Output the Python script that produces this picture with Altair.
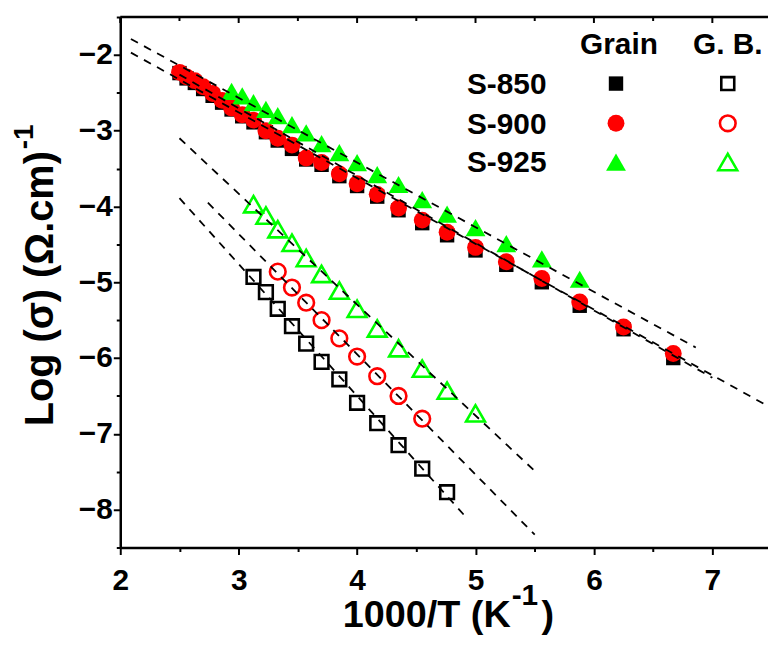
import altair as alt
import pandas as pd

# ---------------- data ----------------
grain_x = [2.50, 2.56, 2.63, 2.70, 2.78, 2.86, 2.94, 3.03, 3.125, 3.23, 3.33, 3.45, 3.57,
           3.70, 3.85, 4.00, 4.17, 4.35, 4.55, 4.76, 5.00, 5.26, 5.56, 5.88, 6.25, 6.67]
grain_850_y = [-2.24, -2.31, -2.37, -2.45, -2.54, -2.63, -2.72, -2.81, -2.89, -3.02, -3.13, -3.24, -3.38,
               -3.45, -3.60, -3.73, -3.87, -4.05, -4.22, -4.38, -4.58, -4.77, -5.00, -5.31, -5.62, -6.00]
grain_900_y = [-2.23, -2.29, -2.34, -2.42, -2.51, -2.60, -2.70, -2.79, -2.86, -3.00, -3.10, -3.19, -3.36,
               -3.42, -3.57, -3.70, -3.84, -4.02, -4.18, -4.34, -4.54, -4.73, -4.95, -5.26, -5.59, -5.94]
grain_925_x = [2.94, 3.03, 3.125, 3.23, 3.33, 3.45, 3.57, 3.70, 3.85, 4.00, 4.17, 4.35, 4.55,
               4.76, 5.00, 5.26, 5.56, 5.88]
grain_925_y = [-2.48, -2.54, -2.63, -2.72, -2.80, -2.92, -3.03, -3.17, -3.29, -3.42, -3.58, -3.71, -3.91,
               -4.10, -4.28, -4.49, -4.69, -4.96]

gb_850_x = [3.125, 3.23, 3.33, 3.45, 3.57, 3.70, 3.85, 4.00, 4.17, 4.35, 4.55, 4.76]
gb_850_y = [-4.93, -5.13, -5.35, -5.58, -5.81, -6.05, -6.28, -6.59, -6.86, -7.15, -7.46, -7.77]
gb_900_x = [3.33, 3.45, 3.57, 3.70, 3.85, 4.00, 4.17, 4.35, 4.55]
gb_900_y = [-4.86, -5.07, -5.27, -5.50, -5.74, -5.98, -6.24, -6.50, -6.80]
gb_925_x = [3.125, 3.23, 3.33, 3.45, 3.57, 3.70, 3.85, 4.00, 4.17, 4.35, 4.55, 4.76, 5.00]
gb_925_y = [-3.97, -4.12, -4.30, -4.48, -4.68, -4.89, -5.11, -5.35, -5.61, -5.87, -6.14, -6.43, -6.73]

# dashed fit lines: id, x, y (two end points each)
fit_id = ["g925", "g925", "g900", "g900", "g850", "g850",
          "b925", "b925", "b900", "b900", "b850", "b850"]
fit_x = [2.09, 6.86, 2.09, 7.50, 2.50, 7.00,
         2.50, 5.50, 2.74, 5.50, 2.50, 4.92]
fit_y = [-1.79, -5.86, -1.97, -6.66, -2.26, -6.26,
         -3.10, -7.49, -3.95, -8.33, -3.89, -8.10]

x_tick_values = [2, 2.5, 3, 3.5, 4, 4.5, 5, 5.5, 6, 6.5, 7]
y_tick_values = [-8.5, -8, -7.5, -7, -6.5, -6, -5.5, -5, -4.5, -4, -3.5, -3, -2.5, -2, -1.5]
top_major = [2, 3, 4, 5, 6, 7]
top_minor = [2.5, 3.5, 4.5, 5.5, 6.5]

legend_rows = ["S-850", "S-900", "S-925"]
legend_cols = ["Grain", "G. B."]

# ---------------- style ----------------
W, H = 652, 534
FONT = "Liberation Sans, Arial, Helvetica, sans-serif"
BLACK, RED, GREEN = "#000000", "#FF0000", "#00FF00"

xs = alt.Scale(domain=[2, 7.47], nice=False, zero=False)
ys = alt.Scale(domain=[-8.5, -1.5], nice=False, zero=False)

xaxis = alt.Axis(values=x_tick_values, title=None, grid=False,
                 labelExpr="datum.value % 1 == 0 ? format(datum.value, 'd') : ''",
                 tickSize={"condition": {"test": "datum.value % 1 == 0", "value": 7}, "value": 4},
                 labelPadding=11, labelFlush=False, labelOverlap=False)
yaxis = alt.Axis(values=y_tick_values, title=None, grid=False,
                 labelExpr="datum.value % 1 == 0 ? format(datum.value, 'd') : ''",
                 tickSize={"condition": {"test": "datum.value % 1 == 0", "value": 7}, "value": 4},
                 labelPadding=1, labelFlush=False, labelOverlap=False)


def pts(xv, yv, shape, color, filled, size):
    df = pd.DataFrame({"x": xv, "y": yv})
    kw = dict(shape=shape, size=size, opacity=1)
    if filled:
        kw.update(filled=True, fill=color, strokeWidth=0)
    else:
        kw.update(filled=False, stroke=color, strokeWidth=2.6, fill="white", fillOpacity=0)
    return alt.Chart(df).mark_point(**kw).encode(
        x=alt.X("x:Q", scale=xs, axis=xaxis),
        y=alt.Y("y:Q", scale=ys, axis=yaxis))


SQ, CI, TR = 210, 289, 400

layers = []
# open (grain boundary) markers
layers.append(pts(gb_850_x, gb_850_y, "square", BLACK, False, SQ - 20))
layers.append(pts(gb_900_x, gb_900_y, "circle", RED, False, CI - 40))
layers.append(pts(gb_925_x, gb_925_y, "triangle-up", GREEN, False, TR - 40))
# filled (grain) markers
layers.append(pts(grain_x, grain_850_y, "square", BLACK, True, SQ))
layers.append(pts(grain_x, grain_900_y, "circle", RED, True, CI))
layers.append(pts(grain_925_x, grain_925_y, "triangle-up", GREEN, True, TR))

# fit lines
fit_df = pd.DataFrame({"id": fit_id, "x": fit_x, "y": fit_y})
layers.append(alt.Chart(fit_df).mark_line(color=BLACK, strokeWidth=1.8, strokeDash=[8, 7], clip=True).encode(
    x=alt.X("x:Q", scale=xs, axis=xaxis), y=alt.Y("y:Q", scale=ys, axis=yaxis), detail="id:N"))

# top frame and its inward ticks
one = pd.DataFrame({"a": [0]})
layers.append(alt.Chart(one).mark_rule(color=BLACK, strokeWidth=2.5).encode(
    x=alt.value(0), x2=alt.value(W), y=alt.value(0)))
layers.append(alt.Chart(pd.DataFrame({"t": top_major})).mark_rule(color=BLACK, strokeWidth=2).encode(
    x=alt.X("t:Q", scale=xs, axis=xaxis), y=alt.value(0), y2=alt.value(6)))
layers.append(alt.Chart(pd.DataFrame({"t": top_minor})).mark_rule(color=BLACK, strokeWidth=2).encode(
    x=alt.X("t:Q", scale=xs, axis=xaxis), y=alt.value(0), y2=alt.value(4)))


def txt(s, x, y, size, align="center", baseline="middle", angle=0):
    return alt.Chart(one).mark_text(text=s, font=FONT, fontSize=size, fontWeight="bold", color=BLACK,
                                    align=align, baseline=baseline, angle=angle).encode(
        x=alt.value(x), y=alt.value(y))


def sym(x, y, shape, color, filled, size):
    kw = dict(shape=shape, size=size, opacity=1)
    if filled:
        kw.update(filled=True, fill=color, strokeWidth=0)
    else:
        kw.update(filled=False, stroke=color, strokeWidth=2.6, fill="white", fillOpacity=0)
    return alt.Chart(one).mark_point(**kw).encode(x=alt.value(x), y=alt.value(y))


# legend (drawn by hand)
col_x = [502, 611.5]
row_y = [67, 107, 146]
layers.append(txt(legend_cols[0], col_x[0], 28.5, 30))
layers.append(txt(legend_cols[1], col_x[1], 28.5, 30))
for i, lab in enumerate(legend_rows):
    layers.append(txt(lab, 389, row_y[i] + 1.5, 30))
shapes = [("square", BLACK, SQ), ("circle", RED, CI), ("triangle-up", GREEN, TR)]
for i, (sh, colr, sz) in enumerate(shapes):
    layers.append(sym(col_x[0] - 3, row_y[i], sh, colr, True, sz))
    layers.append(sym(col_x[1], row_y[i], sh, colr, False, sz - 40))

# axis titles with real superscripts
layers.append(txt("Log (σ) (Ω.cm)", -68, 135, 40, align="right", baseline="alphabetic", angle=270))
layers.append(txt("-1", -88, 133, 28, align="left", baseline="alphabetic", angle=270))
layers.append(txt("1000/T (K", 393, 614, 38, align="right", baseline="alphabetic"))
layers.append(txt("-1", 394, 592, 30, align="left", baseline="alphabetic"))
layers.append(txt(")", 424, 614, 38, align="left", baseline="alphabetic"))

chart = alt.layer(*layers).properties(
    width=W, height=H,
    padding={"left": 113, "top": 7, "right": 0, "bottom": 89},
    autosize=alt.AutoSizeParams(type="none"),
).configure_view(stroke=None).configure_axis(
    domainColor=BLACK, domainWidth=2.5, tickColor=BLACK, tickWidth=2,
    labelFont=FONT, labelFontSize=30, labelFontWeight="bold", labelColor=BLACK,
)

chart.save("out.html", embed_options={"renderer": "svg", "actions": False})
